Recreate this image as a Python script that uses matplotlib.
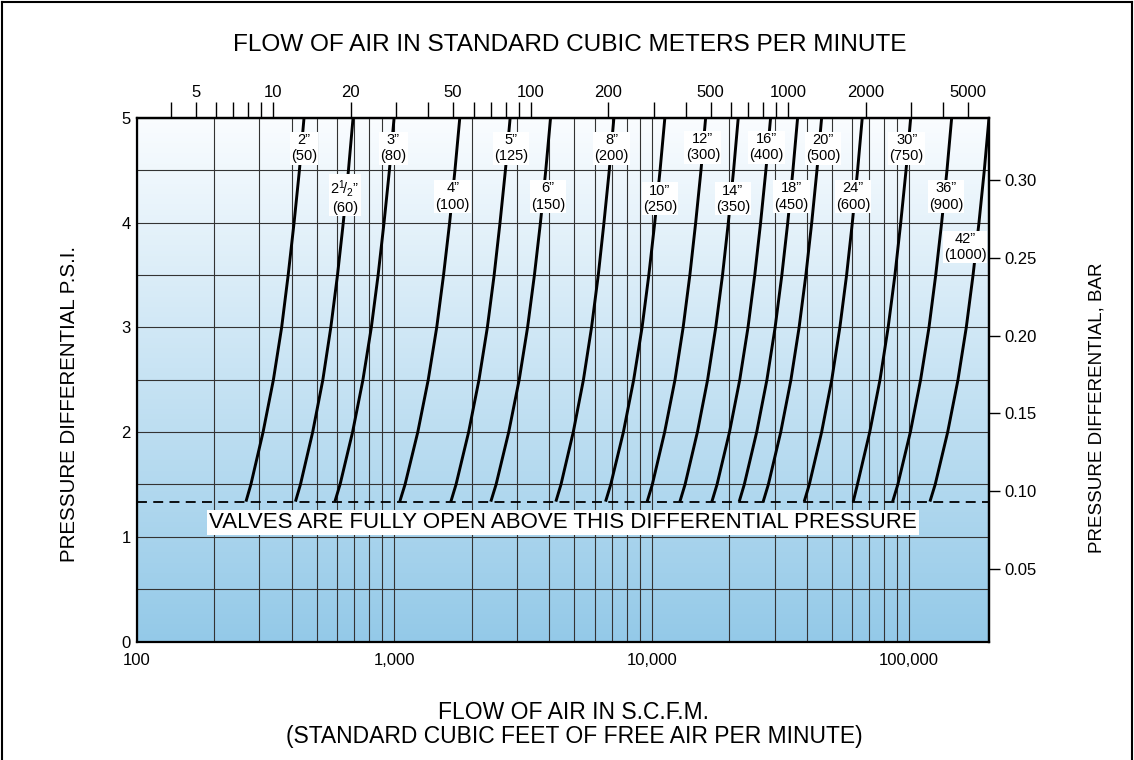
import numpy as np
import matplotlib.pyplot as plt
from matplotlib.colors import LinearSegmentedColormap
from matplotlib.lines import Line2D
from matplotlib.ticker import FixedLocator, NullFormatter, NullLocator

plt.rcParams['font.family'] = ['Liberation Sans', 'DejaVu Sans']
plt.rcParams['mathtext.fontset'] = 'custom'
plt.rcParams['mathtext.rm'] = 'Liberation Sans'
plt.rcParams['mathtext.it'] = 'Liberation Sans:italic'

# valve sizes (inch) and DN
valve_sizes = ['2\u201d', '2$^{1}\\!/_{2}$\u201d', '3\u201d', '4\u201d', '5\u201d', '6\u201d', '8\u201d',
               '10\u201d', '12\u201d', '14\u201d', '16\u201d', '18\u201d', '20\u201d', '24\u201d',
               '30\u201d', '36\u201d', '42\u201d']
valve_dn = ['(50)', '(60)', '(80)', '(100)', '(125)', '(150)', '(200)', '(250)', '(300)',
            '(350)', '(400)', '(450)', '(500)', '(600)', '(750)', '(900)', '(1000)']

# pressure levels (psi) where each curve was read
psi_levels = [1.336, 1.5, 2, 2.5, 3, 3.5, 4, 4.5, 5]

# flow in SCFM at the pressure levels above
scfm_at_1_34psi = [266, 414, 589, 1052, 1661, 2374, 4246, 6622, 9605, 12870, 17130,
                   21870, 27100, 39100, 60600, 86200, 120300]
scfm_at_1_5psi = [278, 433, 617, 1103, 1740, 2489, 4446, 6937, 10060, 13480, 17940,
                  22890, 28380, 40930, 62920, 90300, 126100]
scfm_at_2psi = [310, 483, 690, 1236, 1947, 2786, 4961, 7766, 11230, 15050, 20050,
                25570, 31700, 45690, 70240, 101000, 141000]
scfm_at_2_5psi = [340, 529, 757, 1357, 2136, 3060, 5434, 8516, 12320, 16490, 21980,
                  28020, 34730, 50030, 77010, 110700, 154600]
scfm_at_3psi = [366, 568, 816, 1464, 2302, 3298, 5842, 9178, 13250, 17730, 23660,
                30150, 37360, 53780, 82810, 119300, 166500]
scfm_at_3_5psi = [388, 603, 867, 1556, 2446, 3506, 6205, 9749, 14070, 18840, 25130,
                  32020, 39690, 57120, 87990, 126700, 176900]
scfm_at_4psi = [409, 635, 914, 1643, 2578, 3700, 6528, 10280, 14820, 19840, 26480,
                33750, 41820, 60120, 92680, 133600, 186500]
scfm_at_4_5psi = [429, 665, 959, 1723, 2705, 3880, 6845, 10780, 15540, 20800, 27760,
                  35350, 43820, 63020, 97160, 140100, 195600]
scfm_at_5psi = [447, 693, 1000, 1799, 2822, 4050, 7135, 11250, 16200, 21680, 28950,
                36860, 45690, 65690, 101300, 146100, 204000]

full_open_psi = 1.336

# label anchor positions (scfm, psi)
label_x = [446, 644, 993, 1690, 2840, 3954, 6988, 10760, 15800, 20670, 27940, 34950,
           46230, 60450, 97700, 138800, 164600]
label_y = [4.71, 4.25, 4.71, 4.25, 4.71, 4.25, 4.71, 4.23, 4.72, 4.23, 4.72, 4.25,
           4.71, 4.25, 4.71, 4.25, 3.77]

# axes ticks
x_ticks = [100, 1000, 10000, 100000]
x_tick_labels = ['100', '1,000', '10,000', '100,000']
x_grid = [200, 300, 400, 500, 600, 700, 800, 900,
          2000, 3000, 4000, 5000, 6000, 7000, 8000, 9000,
          20000, 30000, 40000, 50000, 60000, 70000, 80000, 90000]
m3_ticks = [4, 5, 6, 7, 8, 9, 10, 20, 30, 40, 50, 60, 70, 80, 90, 100,
            200, 300, 400, 500, 600, 700, 800, 900, 1000, 2000, 3000, 4000, 5000]
m3_labelled = [5, 10, 20, 50, 100, 200, 500, 1000, 2000, 5000]
bar_ticks = [0.05, 0.10, 0.15, 0.20, 0.25, 0.30]

M3_FACTOR = 33.9            # scfm per m3/min as drawn on the chart
BAR_SCALE, BAR_OFFSET = 14.88, -0.054   # psi = BAR_SCALE*bar + BAR_OFFSET


def psi_to_bar(p):
    return (np.asarray(p) - BAR_OFFSET) / BAR_SCALE


def bar_to_psi(b):
    return np.asarray(b) * BAR_SCALE + BAR_OFFSET


fig = plt.figure(figsize=(11.34, 7.6), dpi=100)
ax = fig.add_axes([136.5 / 1134, 1 - 641.5 / 760, (989 - 136.5) / 1134, (641.5 - 118) / 760])

# blue gradient background
cmap = LinearSegmentedColormap.from_list('bg', [(0.98, 0.99, 1.0), (0.58, 0.79, 0.91)])
grad = np.linspace(0, 1, 256).reshape(-1, 1)
ax.imshow(grad, cmap=cmap, aspect='auto', extent=[0, 1, 0, 1],
          transform=ax.transAxes, zorder=0, interpolation='bilinear')

ax.set_xscale('log')
ax.set_xlim(100, 204000)
ax.set_ylim(0, 5)

ax.set_xticks(x_ticks, labels=x_tick_labels)
ax.xaxis.set_minor_locator(FixedLocator(x_grid))
ax.xaxis.set_minor_formatter(NullFormatter())
ax.set_yticks([0, 1, 2, 3, 4, 5])
ax.yaxis.set_minor_locator(FixedLocator([0.5, 1.5, 2.5, 3.5, 4.5]))
ax.tick_params(axis='x', which='both', length=0, pad=8, labelsize=12)
ax.tick_params(axis='y', which='both', length=0, pad=4, labelsize=12)
ax.grid(which='both', color='#333333', lw=0.8)
ax.set_axisbelow(True)
for s in ax.spines.values():
    s.set_linewidth(1.6)

# valve curves
for i in range(len(valve_sizes)):
    flows = [scfm_at_1_34psi[i], scfm_at_1_5psi[i], scfm_at_2psi[i], scfm_at_2_5psi[i],
             scfm_at_3psi[i], scfm_at_3_5psi[i], scfm_at_4psi[i], scfm_at_4_5psi[i],
             scfm_at_5psi[i]]
    ax.plot(flows, psi_levels, color='black', lw=2.1, solid_capstyle='butt',
            solid_joinstyle='round', zorder=3)
    ax.text(label_x[i], label_y[i], valve_sizes[i] + '\n' + valve_dn[i],
            ha='center', va='center', fontsize=10.5, linespacing=1.2, zorder=4,
            bbox=dict(fc='white', ec='none', pad=0.8))

ax.axhline(full_open_psi, color='black', lw=1.3, dashes=(5.5, 3.5), zorder=3)
ax.text(4540, 1.133, 'VALVES ARE FULLY OPEN ABOVE THIS DIFFERENTIAL PRESSURE',
        ha='center', va='center', fontsize=16, zorder=4,
        bbox=dict(fc='white', ec='none', pad=1.5))

# top axis: cubic meters per minute
top = ax.secondary_xaxis('top', functions=(lambda q: np.asarray(q) / M3_FACTOR,
                                           lambda q: np.asarray(q) * M3_FACTOR))
top.set_xticks(m3_ticks, labels=[str(t) if t in m3_labelled else '' for t in m3_ticks])
top.xaxis.set_minor_locator(NullLocator())
top.tick_params(length=11.5, width=1, pad=1.5, labelsize=12, direction='out')
top.spines['top'].set_linewidth(1.6)

# right axis: bar
right = ax.secondary_yaxis('right', functions=(psi_to_bar, bar_to_psi))
right.set_yticks(bar_ticks, labels=['%.2f' % b for b in bar_ticks])
right.yaxis.set_minor_locator(NullLocator())
right.tick_params(length=8, width=1, pad=3, labelsize=12, direction='out')
right.spines['right'].set_linewidth(1.6)

fig.text(570 / 1134, 1 - 45 / 760, 'FLOW OF AIR IN STANDARD CUBIC METERS PER MINUTE',
         ha='center', va='center', fontsize=17.6)
fig.text(574 / 1134, 1 - 724.5 / 760,
         'FLOW OF AIR IN S.C.F.M.\n(STANDARD CUBIC FEET OF FREE AIR PER MINUTE)',
         ha='center', va='center', fontsize=16.5, linespacing=1.05)
fig.text(70 / 1134, 1 - 404 / 760, 'PRESSURE DIFFERENTIAL P.S.I.', rotation=90,
         ha='center', va='center', fontsize=14.8)
fig.text(1097 / 1134, 1 - 408 / 760, 'PRESSURE DIFFERENTIAL, BAR', rotation=90,
         ha='center', va='center', fontsize=13.5)

# outer frame
fig.add_artist(Line2D([1.5 / 1134, 1.5 / 1134], [0, 1 - 1.5 / 760], color='black', lw=1.5))
fig.add_artist(Line2D([1.5 / 1134, 1 - 2.5 / 1134], [1 - 1.5 / 760, 1 - 1.5 / 760], color='black', lw=1.5))
fig.add_artist(Line2D([1 - 2.5 / 1134, 1 - 2.5 / 1134], [0, 1 - 1.5 / 760], color='black', lw=1.5))

fig.savefig('out.png', dpi=100)
